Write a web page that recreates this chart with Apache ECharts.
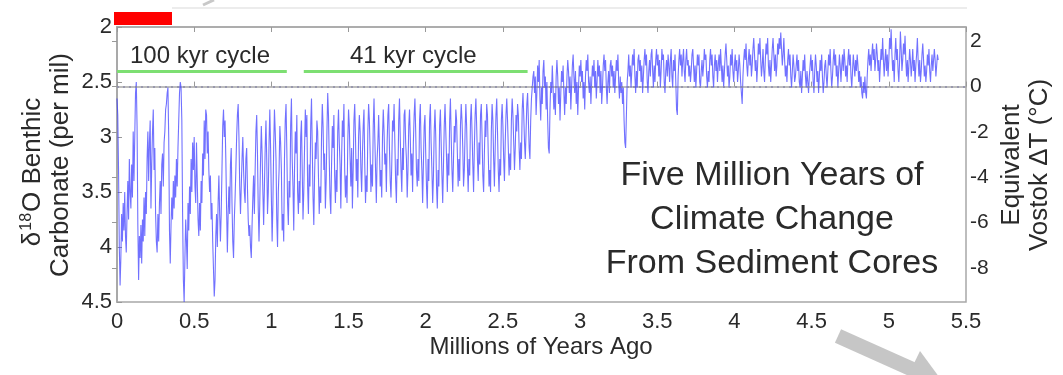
<!DOCTYPE html>
<html>
<head>
<meta charset="utf-8">
<script src="https://cdn.jsdelivr.net/npm/echarts@6/dist/echarts.min.js"></script>
<style>
  html, body { margin: 0; padding: 0; background: #fff; }
  #chart { width: 1063px; height: 375px; }
</style>
</head>
<body>
<div id="chart"></div>
<script>
// Benthic foraminifera δ18O stack, one value every 5 kyr starting at the present.
const ageStepMyr = 0.005;
const d18O = [
  // 0.0 - 0.1 Myr
  2.65, 2.8, 3.3, 4.0, 4.35, 4.1, 3.7, 3.95, 3.6, 3.85, 3.5, 3.9, 4.05, 3.7, 3.4, 3.75, 3.2, 3.5, 3.65, 3.25,
  // 0.1 - 0.2
  3.55, 2.95, 3.4, 3.0, 2.6, 2.5, 2.9, 3.8, 4.3, 3.9, 4.1, 3.8, 4.15, 3.75, 3.95, 3.55, 3.9, 3.5, 3.7, 3.2,
  // 0.2 - 0.3
  2.95, 3.4, 3.05, 2.85, 3.65, 3.25, 2.95, 2.75, 3.3, 3.1, 3.7, 3.95, 4.05, 3.7, 3.95, 3.6, 3.4, 3.7, 3.25, 3.15,
  // 0.3 - 0.4
  3.45, 3.05, 2.95, 2.75, 2.7, 2.6, 2.55, 3.0, 3.85, 4.15, 3.8, 3.55, 3.75, 3.4, 3.65, 3.35, 3.55, 3.2, 3.45, 3.1,
  // 0.4 - 0.5
  2.85, 2.6, 2.5, 2.55, 2.85, 3.7, 4.3, 4.5, 4.1, 3.75, 3.95, 4.2, 3.6, 3.85, 3.45, 3.7, 3.2, 3.5, 3.05, 3.3,
  // 0.5 - 0.6
  3.0, 3.45, 3.6, 3.05, 3.4, 3.75, 3.9, 3.6, 3.85, 3.4, 3.6, 3.15, 3.35, 2.85, 3.2, 2.75, 2.8, 3.15, 2.95, 3.3,
  // 0.6 - 0.7
  3.5, 3.35, 3.75, 3.6, 3.95, 4.2, 4.45, 4.3, 3.9, 3.7, 4.0, 3.6, 3.35, 3.7, 3.95, 3.7, 3.3, 2.9, 2.75, 3.0,
  // 0.7 - 0.8
  2.85, 3.2, 3.65, 4.05, 3.7, 3.45, 3.7, 3.25, 3.1, 3.6, 3.95, 4.1, 3.75, 3.55, 3.3, 3.0, 2.8, 2.7, 3.0, 3.45,
  // 0.8 - 0.9
  3.7, 3.45, 3.2, 3.0, 3.3, 3.5, 3.6, 3.2, 3.1, 3.45, 3.75, 3.9, 3.8, 4.0, 4.1, 3.8, 3.55, 3.35, 3.7, 3.3,
  // 0.9 - 1.0
  2.95, 2.8, 3.15, 3.65, 3.95, 3.6, 3.2, 2.9, 3.15, 3.5, 3.8, 3.45, 3.1, 2.85, 3.2, 3.7, 3.5, 3.05, 2.75, 3.1,
  // 1.0 - 1.1
  3.55, 3.95, 3.6, 3.1, 2.75, 2.95, 3.2, 3.75, 4.0, 3.5, 3.3, 2.9, 3.05, 3.3, 3.85, 3.7, 3.95, 3.2, 2.85, 2.7,
  // 1.1 - 1.2
  3.1, 3.6, 3.8, 3.4, 3.55, 2.9, 2.65, 3.2, 3.45, 3.85, 3.3, 2.95, 3.15, 2.8, 3.5, 3.7, 3.4, 3.6, 3.0, 2.85,
  // 1.2 - 1.3
  3.3, 3.75, 3.5, 3.1, 2.75, 3.0, 2.8, 3.45, 3.7, 3.25, 3.45, 2.9, 2.65, 3.1, 3.55, 3.8, 3.35, 3.05, 3.2, 2.85,
  // 1.3 - 1.4
  2.95, 3.35, 3.7, 3.45, 3.6, 3.0, 2.7, 2.9, 3.3, 3.15, 3.65, 3.4, 2.95, 2.6, 2.8, 3.2, 3.55, 3.7, 3.25, 2.9,
  // 1.4 - 1.5
  3.1, 2.8, 3.35, 3.6, 3.3, 3.5, 2.95, 2.75, 3.05, 3.25, 3.65, 3.2, 2.85, 3.0, 2.7, 3.3, 3.55, 3.35, 3.6, 3.05,
  // 1.5 - 1.6
  2.75, 2.9, 3.2, 3.45, 3.1, 3.65, 3.3, 2.85, 2.7, 3.0, 3.4, 3.2, 3.55, 3.0, 2.8, 2.95, 3.3, 3.5, 3.15, 2.9,
  // 1.6 - 1.7
  2.75, 3.25, 3.6, 3.35, 3.5, 2.95, 2.7, 2.85, 3.15, 3.5, 3.25, 3.45, 2.9, 2.65, 3.0, 3.3, 3.6, 3.2, 3.05, 2.8,
  // 1.7 - 1.8
  3.1, 3.45, 3.3, 3.55, 3.0, 2.75, 2.95, 3.25, 3.15, 3.5, 3.05, 2.8, 2.7, 3.1, 3.4, 3.55, 3.25, 2.85, 2.95, 2.7,
  // 1.8 - 1.9
  3.05, 3.4, 3.6, 3.2, 3.35, 2.85, 2.65, 3.0, 3.3, 3.5, 3.1, 3.3, 2.8, 2.75, 3.05, 3.2, 3.55, 3.3, 2.9, 2.75,
  // 1.9 - 2.0
  3.0, 3.35, 3.15, 3.5, 3.05, 2.8, 2.65, 2.95, 3.3, 3.45, 3.2, 3.4, 2.85, 2.7, 3.1, 3.3, 3.6, 3.25, 2.9, 2.8,
  // 2.0 - 2.1
  3.15, 3.45, 3.65, 3.2, 3.4, 2.85, 2.7, 3.05, 3.3, 3.6, 3.35, 2.95, 2.75, 3.0, 3.45, 3.65, 3.3, 3.45, 2.9, 2.75,
  // 2.1 - 2.2
  3.05, 3.35, 3.6, 3.25, 2.9, 2.7, 2.95, 3.2, 3.5, 3.15, 3.35, 2.85, 2.65, 3.0, 3.3, 3.5, 3.2, 2.9, 3.05, 2.75,
  // 2.2 - 2.3
  2.85, 3.15, 3.45, 3.2, 3.4, 2.9, 2.7, 2.85, 3.1, 3.45, 3.3, 2.95, 2.7, 2.9, 3.25, 3.5, 3.2, 3.35, 2.85, 2.7,
  // 2.3 - 2.4
  2.95, 3.25, 3.5, 3.1, 2.8, 2.65, 2.9, 3.2, 3.4, 3.05, 3.25, 2.8, 2.7, 3.0, 3.35, 3.5, 3.15, 2.85, 3.0, 2.7,
  // 2.4 - 2.5
  2.8, 3.15, 3.45, 3.3, 3.5, 2.95, 2.7, 2.85, 3.2, 3.45, 3.1, 2.8, 2.65, 2.95, 3.3, 3.5, 3.2, 3.35, 2.85, 2.7,
  // 2.5 - 2.6
  2.9, 3.2, 3.4, 3.05, 2.8, 2.65, 2.85, 3.1, 3.35, 3.15, 3.3, 2.85, 2.65, 2.8, 3.05, 3.3, 3.1, 2.8, 2.95, 2.7,
  // 2.6 - 2.7
  2.8, 3.1, 3.3, 3.05, 3.2, 2.75, 2.6, 2.8, 3.05, 3.2, 2.95, 2.7, 2.6, 2.85, 3.1, 3.2, 2.85, 2.65, 2.55, 2.45,
  // 2.7 - 2.8
  2.4, 2.6, 2.45, 2.8, 2.6, 2.35, 2.5, 2.3, 2.65, 2.85, 2.55, 2.7, 2.4, 2.3, 2.55, 2.45, 2.75, 2.5, 2.85, 3.1,
  // 2.8 - 2.9
  3.15, 2.75, 2.5, 2.6, 2.35, 2.55, 2.75, 2.6, 2.8, 2.45, 2.3, 2.45, 2.7, 2.55, 2.85, 2.6, 2.4, 2.5, 2.35, 2.6,
  // 2.9 - 3.0
  2.8, 2.55, 2.7, 2.45, 2.3, 2.4, 2.6, 2.45, 2.75, 2.55, 2.35, 2.25, 2.45, 2.6, 2.4, 2.7, 2.5, 2.8, 2.55, 2.35,
  // 3.0 - 3.1
  2.45, 2.3, 2.5, 2.4, 2.65, 2.5, 2.75, 2.45, 2.3, 2.4, 2.25, 2.5, 2.6, 2.45, 2.7, 2.5, 2.35, 2.45, 2.3, 2.55,
  // 3.1 - 3.2
  2.4, 2.65, 2.5, 2.3, 2.45, 2.35, 2.6, 2.4, 2.7, 2.55, 2.35, 2.25, 2.4, 2.3, 2.55, 2.7, 2.5, 2.4, 2.6, 2.35,
  // 3.2 - 3.3
  2.3, 2.45, 2.35, 2.55, 2.4, 2.6, 2.45, 2.3, 2.4, 2.25, 2.5, 2.65, 2.45, 2.6, 2.5, 2.7, 2.55, 2.85, 3.05, 3.1,
  // 3.3 - 3.4
  2.8, 2.5, 2.4, 2.25, 2.45, 2.35, 2.55, 2.4, 2.25, 2.35, 2.2, 2.45, 2.6, 2.4, 2.55, 2.3, 2.25, 2.4, 2.3, 2.5,
  // 3.4 - 3.5
  2.35, 2.6, 2.45, 2.3, 2.2, 2.35, 2.25, 2.5, 2.6, 2.4, 2.3, 2.45, 2.25, 2.2, 2.4, 2.55, 2.35, 2.5, 2.3, 2.2,
  // 3.5 - 3.6
  2.35, 2.25, 2.45, 2.3, 2.55, 2.4, 2.2, 2.3, 2.25, 2.5, 2.6, 2.4, 2.3, 2.45, 2.25, 2.35, 2.5, 2.3, 2.2, 2.45,
  // 3.6 - 3.7
  2.55, 2.3, 2.4, 2.25, 2.5, 2.75, 2.8, 2.45, 2.3, 2.2, 2.35, 2.25, 2.45, 2.3, 2.2, 2.4, 2.5, 2.3, 2.2, 2.35,
  // 3.7 - 3.8
  2.3, 2.45, 2.35, 2.5, 2.4, 2.25, 2.2, 2.35, 2.5, 2.35, 2.55, 2.4, 2.25, 2.35, 2.25, 2.5, 2.55, 2.4, 2.3, 2.45,
  // 3.8 - 3.9
  2.35, 2.2, 2.3, 2.25, 2.45, 2.55, 2.4, 2.5, 2.3, 2.2, 2.35, 2.25, 2.45, 2.55, 2.35, 2.25, 2.4, 2.3, 2.5, 2.35,
  // 3.9 - 4.0
  2.25, 2.4, 2.2, 2.35, 2.5, 2.35, 2.55, 2.4, 2.25, 2.15, 2.3, 2.45, 2.35, 2.55, 2.45, 2.25, 2.35, 2.2, 2.4, 2.5,
  // 4.0 - 4.1
  2.35, 2.25, 2.4, 2.3, 2.5, 2.4, 2.25, 2.35, 2.5, 2.6, 2.7, 2.45, 2.3, 2.2, 2.3, 2.15, 2.35, 2.45, 2.3, 2.2,
  // 4.1 - 4.2
  2.35, 2.25, 2.45, 2.35, 2.2, 2.1, 2.25, 2.4, 2.3, 2.5, 2.35, 2.15, 2.25, 2.1, 2.3, 2.45, 2.35, 2.2, 2.4, 2.5,
  // 4.2 - 4.3
  2.3, 2.15, 2.25, 2.1, 2.35, 2.45, 2.3, 2.5, 2.35, 2.2, 2.1, 2.25, 2.4, 2.25, 2.45, 2.35, 2.15, 2.25, 2.1, 2.2,
  // 4.3 - 4.4
  2.05, 2.2, 2.35, 2.25, 2.1, 2.3, 2.45, 2.35, 2.5, 2.3, 2.2, 2.35, 2.25, 2.45, 2.55, 2.4, 2.25, 2.35, 2.5, 2.45,
  // 4.4 - 4.5
  2.35, 2.25, 2.4, 2.3, 2.5, 2.55, 2.4, 2.6, 2.45, 2.3, 2.4, 2.25, 2.45, 2.55, 2.4, 2.5, 2.6, 2.45, 2.35, 2.25,
  // 4.5 - 4.6
  2.4, 2.3, 2.5, 2.6, 2.4, 2.25, 2.35, 2.5, 2.4, 2.6, 2.45, 2.3, 2.4, 2.25, 2.45, 2.6, 2.5, 2.35, 2.3, 2.45,
  // 4.6 - 4.7
  2.55, 2.4, 2.25, 2.35, 2.2, 2.4, 2.55, 2.45, 2.3, 2.2, 2.35, 2.25, 2.45, 2.35, 2.55, 2.4, 2.25, 2.35, 2.5, 2.35,
  // 4.7 - 4.8
  2.25, 2.4, 2.2, 2.3, 2.45, 2.35, 2.5, 2.3, 2.2, 2.35, 2.25, 2.45, 2.55, 2.4, 2.25, 2.35, 2.45, 2.3, 2.4, 2.25,
  // 4.8 - 4.9
  2.35, 2.5, 2.4, 2.55, 2.45, 2.6, 2.65, 2.5, 2.6, 2.45, 2.6, 2.65, 2.45, 2.3, 2.2, 2.35, 2.25, 2.4, 2.25, 2.15,
  // 4.9 - 5.0
  2.3, 2.2, 2.4, 2.3, 2.15, 2.25, 2.4, 2.3, 2.5, 2.35, 2.2, 2.3, 2.1, 2.3, 2.45, 2.3, 2.2, 2.4, 2.25, 2.45,
  // 5.0 - 5.1
  2.3, 2.1, 2.2, 2.02, 2.25, 2.4, 2.3, 2.5, 2.25, 2.1, 2.3, 2.2, 2.4, 2.5, 2.3, 2.04, 2.2, 2.4, 2.3, 2.15,
  // 5.1 - 5.2
  2.25, 2.08, 2.3, 2.45, 2.3, 2.5, 2.35, 2.2, 2.3, 2.45, 2.35, 2.2, 2.4, 2.3, 2.5, 2.35, 2.25, 2.1, 2.3, 2.45,
  // 5.2 - 5.3
  2.3, 2.5, 2.4, 2.25, 2.15, 2.3, 2.45, 2.35, 2.5, 2.4, 2.25, 2.35, 2.2, 2.4, 2.5, 2.35, 2.25, 2.4, 2.3, 2.2,
  // 5.3 -
  2.3, 2.45, 2.35, 2.25, 2.3
];

// Axis ranges and tick labels
const ageTicks = { min: 0, max: 5.5, interval: 0.5 };
const d18OTicks = { min: 2, max: 4.5, interval: 0.5 };
const vostokRange = { min: -9.5, max: 2.63 };
const vostokTicks = [2, 0, -2, -4, -6, -8];

// Glacial cycle regimes: label, start and end (Myr) and the δ18O level of the bar
const cycleLabels = ['100 kyr cycle', '41 kyr cycle'];
const cycleStart = [0, 1.21];
const cycleEnd = [1.1, 2.66];
const cycleLevel = 2.4;

const titleLines = ['Five Million Years of', 'Climate Change', 'From Sediment Cores'];

const FONT = '"Liberation Sans", Arial, Helvetica, sans-serif';
const AXIS_GRAY = '#a8a8a8';
const TEXT = '#2a2a2a';

const seriesData = d18O.map((v, i) => [+(i * ageStepMyr).toFixed(3), v]);

const chart = echarts.init(document.getElementById('chart'), null, { renderer: 'canvas' });

const commonX = {
  type: 'value',
  min: ageTicks.min, max: ageTicks.max, interval: ageTicks.interval,
  splitLine: { show: false },
  axisLine: { show: true, lineStyle: { color: AXIS_GRAY, width: 1.5 } },
  axisTick: { show: true, inside: true, length: 5, lineStyle: { color: '#999' } }
};

chart.setOption({
  animation: false,
  backgroundColor: '#fff',
  grid: { left: 117, right: 97, top: 27, bottom: 73, show: true, borderColor: AXIS_GRAY, borderWidth: 1.5, backgroundColor: '#fff' },
  xAxis: [
    Object.assign({}, commonX, {
      position: 'bottom',
      axisLabel: { color: TEXT, fontSize: 22, fontFamily: FONT, margin: 9 }
    }),
    Object.assign({}, commonX, {
      position: 'top',
      axisLabel: { show: false }
    })
  ],
  yAxis: [
    {
      type: 'value', position: 'left', inverse: true,
      min: d18OTicks.min, max: d18OTicks.max, interval: d18OTicks.interval,
      splitLine: { show: false },
      axisLine: { show: true, lineStyle: { color: AXIS_GRAY, width: 1.5 } },
      axisTick: { show: true, inside: true, length: 5, lineStyle: { color: '#999' } },
      axisLabel: { color: TEXT, fontSize: 22, fontFamily: FONT, margin: 5 }
    },
    {
      type: 'value', position: 'right',
      min: vostokRange.min, max: vostokRange.max,
      splitLine: { show: false },
      axisLine: { show: true, lineStyle: { color: AXIS_GRAY, width: 1.5 } },
      axisTick: { show: true, inside: true, length: 5, customValues: vostokTicks, lineStyle: { color: '#999' } },
      axisLabel: { color: TEXT, fontSize: 21, fontFamily: FONT, margin: 4, customValues: vostokTicks }
    }
  ],
  series: [
    {
      name: 'δ18O',
      type: 'line',
      xAxisIndex: 0, yAxisIndex: 0,
      data: seriesData,
      showSymbol: false,
      sampling: null,
      silent: true,
      z: 2,
      lineStyle: { color: '#3a3aff', width: 1.1, opacity: 0.72 },
      markLine: {
        silent: true,
        symbol: 'none',
        z: 4,
        label: { show: false },
        lineStyle: { color: '#7ddf72', width: 3, type: 'solid' },
        data: cycleStart.map((s, i) => [
          { coord: [s, cycleLevel] },
          { coord: [cycleEnd[i], cycleLevel] }
        ])
      }
    },
    {
      name: 'Vostok reference',
      type: 'line',
      xAxisIndex: 0, yAxisIndex: 1,
      data: [],
      silent: true,
      markLine: {
        silent: true,
        symbol: 'none',
        z: 3,
        label: { show: false },
        lineStyle: { color: '#8c8ca8', width: 1.6, type: [2, 4] },
        data: [{ yAxis: 0 }]
      }
    }
  ],
  graphic: [
    // header strip
    { type: 'line', shape: { x1: 172, y1: 8, x2: 967, y2: 8 }, style: { stroke: '#ececec', lineWidth: 2 } },
    { type: 'rect', shape: { x: 114, y: 12, width: 58, height: 13 }, style: { fill: '#ff0000' } },
    { type: 'line', shape: { x1: 203, y1: 5, x2: 214, y2: 0 }, style: { stroke: '#c8c8c8', lineWidth: 3 } },
    // regime labels
    { type: 'text', x: 130, y: 56, style: { text: cycleLabels[0], fill: TEXT, font: '24px ' + FONT, align: 'left', verticalAlign: 'middle' } },
    { type: 'text', x: 350, y: 56, style: { text: cycleLabels[1], fill: TEXT, font: '24px ' + FONT, align: 'left', verticalAlign: 'middle' } },
    // title block
    { type: 'text', x: 772, y: 176, style: { text: titleLines[0], fill: TEXT, font: '34px ' + FONT, align: 'center', verticalAlign: 'middle' } },
    { type: 'text', x: 772, y: 220, style: { text: titleLines[1], fill: TEXT, font: '34px ' + FONT, align: 'center', verticalAlign: 'middle' } },
    { type: 'text', x: 772, y: 264, style: { text: titleLines[2], fill: TEXT, font: '34px ' + FONT, align: 'center', verticalAlign: 'middle' } },
    // axis titles
    { type: 'text', x: 541, y: 347, style: { text: 'Millions of Years Ago', fill: TEXT, font: '24px ' + FONT, align: 'center', verticalAlign: 'middle' } },
    {
      type: 'text', x: 33, y: 172, rotation: Math.PI / 2,
      style: {
        text: '{n|δ}{s|18}{n|O Benthic}',
        align: 'center', verticalAlign: 'middle',
        rich: {
          n: { fontSize: 26, fontFamily: FONT, fill: TEXT, color: TEXT },
          s: { fontSize: 16, fontFamily: FONT, fill: TEXT, color: TEXT, padding: [0, 1, 12, 1] }
        }
      }
    },
    { type: 'text', x: 61, y: 165, rotation: Math.PI / 2, style: { text: 'Carbonate (per mil)', fill: TEXT, font: '26px ' + FONT, align: 'center', verticalAlign: 'middle' } },
    { type: 'text', x: 1012, y: 165, rotation: Math.PI / 2, style: { text: 'Equivalent', fill: TEXT, font: '26px ' + FONT, align: 'center', verticalAlign: 'middle' } },
    { type: 'text', x: 1040, y: 165, rotation: Math.PI / 2, style: { text: 'Vostok ΔT (°C)', fill: TEXT, font: '26px ' + FONT, align: 'center', verticalAlign: 'middle' } },
    // pointer arrow
    { type: 'line', shape: { x1: 838, y1: 336, x2: 914, y2: 370 }, style: { stroke: '#c6c6c6', lineWidth: 15 } },
    { type: 'polygon', shape: { points: [[903, 386], [920, 351], [945, 385]] }, style: { fill: '#c6c6c6' } }
  ]
});
</script>
</body>
</html>
